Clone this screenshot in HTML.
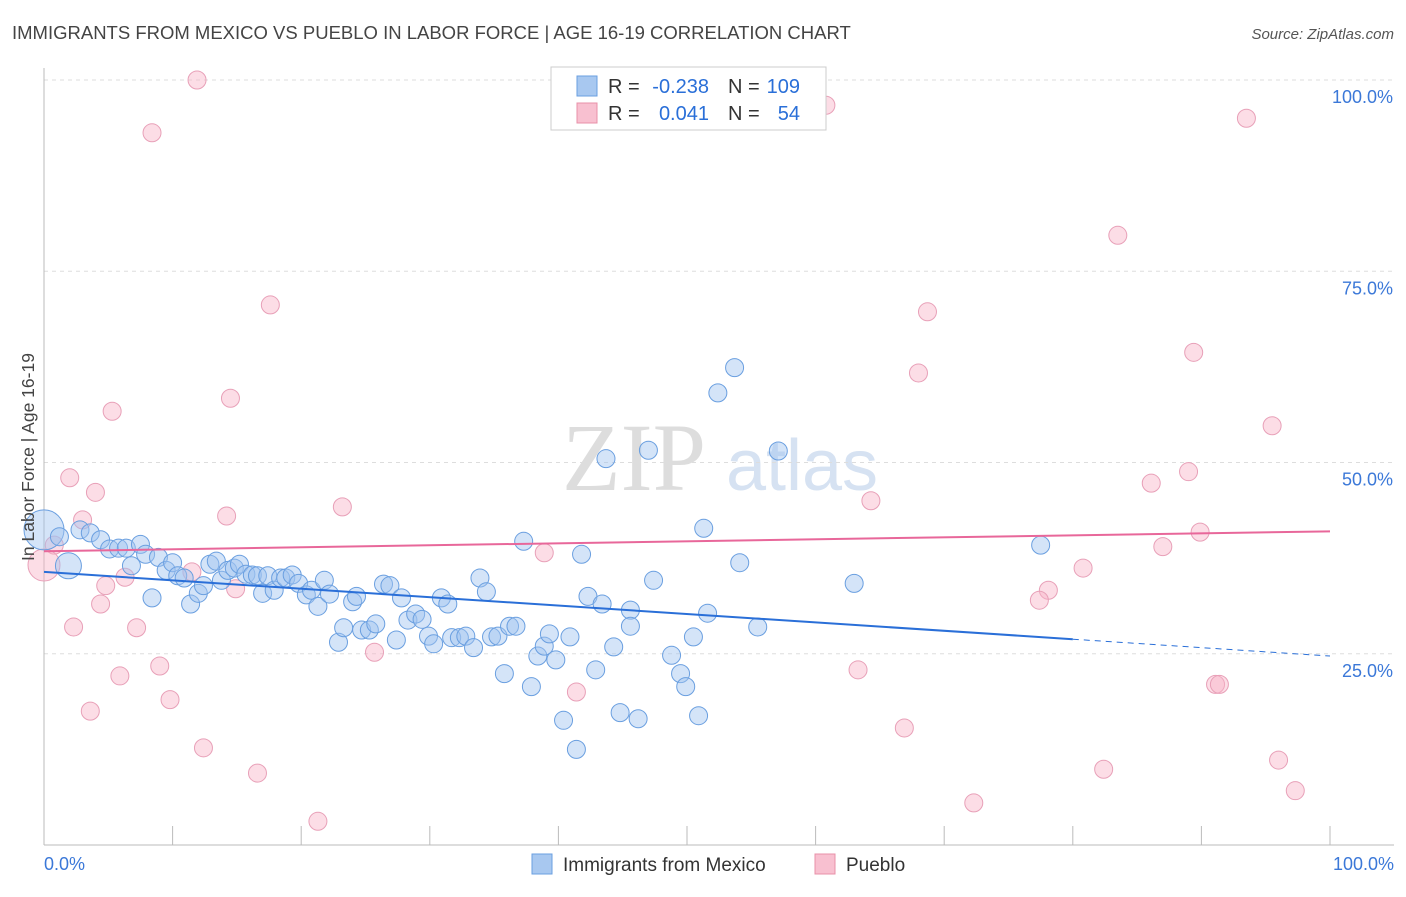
<!DOCTYPE html>
<html><head><meta charset="utf-8"><style>
body{margin:0;background:#fff;font-family:"Liberation Sans",sans-serif;}
svg text{font-family:"Liberation Sans",sans-serif;}
</style></head><body>
<svg id="chart" width="1406" height="892" xmlns="http://www.w3.org/2000/svg">
<text x="12" y="39" font-size="18.5" fill="#444">IMMIGRANTS FROM MEXICO VS PUEBLO IN LABOR FORCE | AGE 16-19 CORRELATION CHART</text>
<text x="1394" y="39" font-size="15" fill="#555" text-anchor="end" font-style="italic">Source: ZipAtlas.com</text>
<g>
<text x="634" y="490" font-size="96" fill="#ddd" text-anchor="middle" font-family="Liberation Serif" style="font-family:'Liberation Serif',serif">ZIP</text>
<text x="802" y="490" font-size="72" fill="#d6e2f2" text-anchor="middle">atlas</text>
</g>
<g id="grid"></g>
<g id="axes"></g>
<g id="pts"></g>
<g id="lines"></g>
<text transform="translate(34,457) rotate(-90)" font-size="17.5" fill="#444" text-anchor="middle">In Labor Force | Age 16-19</text>
<g>
<rect x="551" y="67" width="275" height="63" fill="#fff" stroke="#ccc"/>
<rect x="577" y="76" width="20" height="20" fill="#a8c8f0" stroke="#6a9fe0"/>
<rect x="577" y="103" width="20" height="20" fill="#f8c0d0" stroke="#e890a8"/>
<g font-size="20" fill="#333">
<text x="608" y="93">R =</text><text x="709" y="93" fill="#2a6fd8" text-anchor="end">-0.238</text>
<text x="728" y="93">N =</text><text x="800" y="93" fill="#2a6fd8" text-anchor="end">109</text>
<text x="608" y="120">R =</text><text x="709" y="120" fill="#2a6fd8" text-anchor="end">0.041</text>
<text x="728" y="120">N =</text><text x="800" y="120" fill="#2a6fd8" text-anchor="end">54</text>
</g>
</g>
<g>
<rect x="532" y="854" width="20" height="20" fill="#a8c8f0" stroke="#6a9fe0"/>
<text x="563" y="871" font-size="19" fill="#333">Immigrants from Mexico</text>
<rect x="815" y="854" width="20" height="20" fill="#f8c0d0" stroke="#e890a8"/>
<text x="846" y="871" font-size="19" fill="#333">Pueblo</text>
</g>
</svg>
<script>
const blueX=[0,1.9,1.2,2.8,3.6,4.4,5.1,5.8,6.4,7.5,6.8,7.9,8.4,8.9,9.5,10.0,10.4,10.9,11.4,12.0,12.4,12.9,13.4,13.8,14.3,14.8,15.2,15.7,16.2,16.6,17.0,17.4,17.9,18.4,18.8,19.3,19.8,20.4,20.8,21.3,21.8,22.2,22.9,23.3,24.0,24.3,24.7,25.3,25.8,26.4,26.9,27.4,27.8,28.3,28.9,29.4,29.9,30.3,30.9,31.4,31.7,32.3,32.8,33.4,33.9,34.4,34.8,35.3,36.2,36.7,35.8,37.3,37.9,38.4,38.9,39.3,39.8,40.4,40.9,41.4,41.8,42.3,42.9,43.4,43.7,44.3,44.8,45.6,45.6,46.2,47.0,47.4,48.8,49.5,49.9,50.5,50.9,51.3,51.6,52.4,53.7,54.1,55.5,57.1,63.0,77.5];
const blueY=[41.2,36.5,40.3,41.2,40.8,39.9,38.7,38.8,38.8,39.3,36.5,38.0,32.3,37.6,35.9,36.9,35.2,34.9,31.5,32.9,33.9,36.7,37.1,34.6,35.9,36.2,36.7,35.4,35.3,35.2,32.9,35.2,33.3,34.9,34.9,35.3,34.2,32.7,33.3,31.2,34.6,32.8,26.5,28.4,31.8,32.5,28.1,28.1,28.9,34.1,33.9,26.8,32.3,29.4,30.2,29.5,27.3,26.3,32.3,31.5,27.1,27.1,27.3,25.8,34.9,33.1,27.2,27.3,28.6,28.6,22.4,39.7,20.7,24.7,26.0,27.6,24.2,16.3,27.2,12.5,38.0,32.5,22.9,31.5,50.5,25.9,17.3,30.7,28.6,16.5,51.6,34.6,24.8,22.4,20.7,27.2,16.9,41.4,30.3,59.1,62.4,36.9,28.5,51.5,34.2,39.2];
const blueBig={0:20,1:13};
const pinkX=[11.9,8.4,60.8,93.5,83.5,17.6,68.7,89.4,68.0,5.3,14.5,95.5,89.0,2.0,4.0,86.1,64.3,23.2,14.2,3.0,89.9,0.8,0,87.0,38.9,80.8,11.5,6.3,4.8,14.9,78.1,77.4,4.4,2.3,7.2,25.7,9.0,63.3,5.9,91.1,91.4,41.4,9.8,3.6,66.9,12.4,16.6,82.4,96.0,72.3,97.3,21.3];
const pinkY=[100,93.1,96.7,95.0,79.7,70.6,69.7,64.4,61.7,56.7,58.4,54.8,48.8,48.0,46.1,47.3,45.0,44.2,43.0,42.5,40.9,39.2,36.6,39.0,38.2,36.2,35.7,35.0,33.9,33.5,33.3,32.0,31.5,28.5,28.4,25.2,23.4,22.9,22.1,21.0,21.0,20.0,19.0,17.5,15.3,12.7,9.4,9.9,11.1,5.5,7.1,3.1];
const pinkBig={22:16};
const blueTrend=[35.7,24.7], blueSolidEnd=80;
const pinkTrend=[38.4,41.0];
const yTicks=[25,50,75,100];
const xTickLabels=["0.0%","100.0%"];
const NS="http://www.w3.org/2000/svg";
const X0=44,X1=1330,Y0=845,Y1=80;
const sx=v=>X0+(X1-X0)*v/100, sy=v=>Y0-(Y0-Y1)*v/100;
function mk(tag,attrs,parent){const e=document.createElementNS(NS,tag);for(const k in attrs)e.setAttribute(k,attrs[k]);parent.appendChild(e);return e;}
const grid=document.getElementById('grid'),axes=document.getElementById('axes'),pts=document.getElementById('pts'),lines=document.getElementById('lines');
yTicks.forEach(t=>{
 const l=mk('line',{x1:X0,x2:1394,y1:sy(t),y2:sy(t),stroke:'#ddd','stroke-dasharray':'4,4'},grid);
 
 
 const tx=mk('text',{x:1393,y:sy(t)+23,'font-size':18,fill:'#3b78d8','text-anchor':'end'},axes);
 tx.textContent=t.toFixed(1)+'%';
 
 
});
const ax=mk('line',{x1:X0,x2:X0,y1:68,y2:Y0,stroke:'#bbb'},axes);


const bx=mk('line',{x1:X0,x2:1394,y1:Y0,y2:Y0,stroke:'#bbb'},axes);


for(let i=0;i<=10;i++){
 const t=mk('line',{x1:sx(i*10),x2:sx(i*10),y1:826,y2:Y0,stroke:'#bbb'},axes);
 
 
}
[[0,'start',44],[100,'end',1394]].forEach((d,i)=>{
 const t=mk('text',{x:d[2],y:870,'font-size':18,fill:'#3b78d8','text-anchor':d[1]},axes);
 t.textContent=xTickLabels[i];
 
 
});
pinkX.forEach((v,i)=>{
 const c=mk('circle',{cx:sx(v),cy:sy(pinkY[i]),r:pinkBig[i]||9,fill:'rgba(248,180,200,0.45)',stroke:'#e8a0b8','stroke-width':1},pts);
 
 
});
blueX.forEach((v,i)=>{
 const c=mk('circle',{cx:sx(v),cy:sy(blueY[i]),r:blueBig[i]||9,fill:'rgba(160,196,240,0.45)',stroke:'#6a9fe0','stroke-width':1},pts);
 
 
});
const by=x=>blueTrend[0]+(blueTrend[1]-blueTrend[0])*x/100;
const b1=mk('line',{x1:sx(0),y1:sy(by(0)),x2:sx(blueSolidEnd),y2:sy(by(blueSolidEnd)),stroke:'#2a6fd8','stroke-width':2},lines);


const b2=mk('line',{x1:sx(blueSolidEnd),y1:sy(by(blueSolidEnd)),x2:sx(100),y2:sy(by(100)),stroke:'#2a6fd8','stroke-width':1,'stroke-dasharray':'6,5'},lines);


const p1=mk('line',{x1:sx(0),y1:sy(pinkTrend[0]),x2:sx(100),y2:sy(pinkTrend[1]),stroke:'#e8679a','stroke-width':2},lines);


</script>
</body></html>
